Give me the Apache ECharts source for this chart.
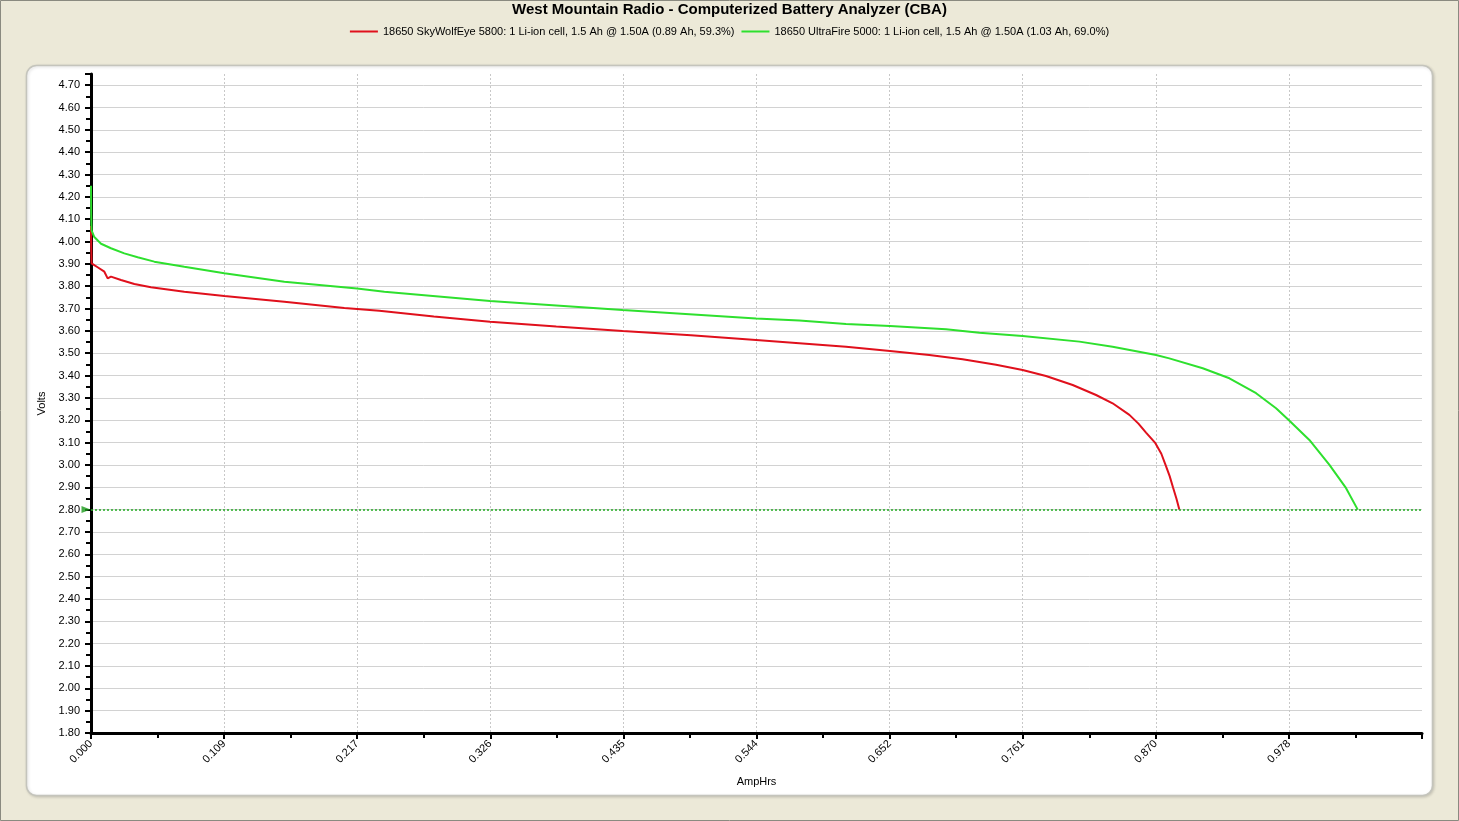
<!DOCTYPE html>
<html>
<head>
<meta charset="utf-8">
<script src="https://cdn.jsdelivr.net/npm/echarts@6/dist/echarts.min.js"></script>
<style>
html,body{margin:0;padding:0;background:#ECE9D8;}
#chart{width:1459px;height:821px;}
</style>
</head>
<body>
<div id="chart"></div>
<script>
// ---- data (AmpHrs, Volts) ----
var redName = '18650 SkyWolfEye 5800: 1 Li-ion cell, 1.5 Ah @ 1.50A (0.89 Ah, 59.3%)';
var greenName = '18650 UltraFire 5000: 1 Li-ion cell, 1.5 Ah @ 1.50A (1.03 Ah, 69.0%)';

var redAh = [0, 0.0002, 0.0005, 0.0030, 0.0054, 0.0109, 0.0136, 0.0163, 0.0245, 0.0354, 0.0490, 0.0762,
  0.1089, 0.1579, 0.2069, 0.2355, 0.2800, 0.3259, 0.3800, 0.4342, 0.4900, 0.5432, 0.5785, 0.6167,
  0.6526, 0.6847, 0.7119, 0.7392, 0.7609, 0.7800, 0.8018, 0.8209, 0.8344, 0.8481, 0.8555, 0.8617,
  0.8690, 0.8742, 0.8780, 0.8810, 0.8837, 0.8865, 0.8889];
var redV = [4.07, 3.98, 3.902, 3.893, 3.885, 3.865, 3.835, 3.843, 3.828, 3.810, 3.795, 3.775,
  3.756, 3.731, 3.703, 3.690, 3.664, 3.641, 3.620, 3.600, 3.580, 3.559, 3.545, 3.529,
  3.510, 3.492, 3.473, 3.448, 3.425, 3.398, 3.358, 3.313, 3.276, 3.224, 3.185, 3.145,
  3.100, 3.050, 2.995, 2.950, 2.900, 2.850, 2.800];

var greenAh = [0, 0.0002, 0.0005, 0.0027, 0.0082, 0.0163, 0.0272, 0.0381, 0.0517, 0.0762, 0.1089,
  0.1579, 0.2173, 0.2396, 0.3259, 0.4342, 0.5432, 0.5785, 0.6167, 0.6526, 0.6984, 0.7256, 0.7609,
  0.8073, 0.8344, 0.8699, 0.8807, 0.9080, 0.9298, 0.9516, 0.9679, 0.9782, 0.9951, 1.0115, 1.0251, 1.0346];
var greenV = [4.25, 4.12, 4.05, 4.02, 3.99, 3.97, 3.947, 3.930, 3.910, 3.887, 3.858,
  3.820, 3.790, 3.775, 3.734, 3.694, 3.656, 3.646, 3.631, 3.622, 3.607, 3.592, 3.577,
  3.552, 3.529, 3.492, 3.477, 3.433, 3.388, 3.321, 3.254, 3.201, 3.112, 3.000, 2.896, 2.800];

var cutoffVolts = 2.80;

// axis ticks
var xMin = 0, xMax = 1.0871, xStep = 0.10871;
var yMin = 1.80, yMax = 4.75, yStep = 0.10;

function pairs(xs, ys){ return xs.map(function(x,i){ return [x, ys[i]]; }); }

var FONT = 'Liberation Sans, Arial, sans-serif';
var chart = echarts.init(document.getElementById('chart'));
chart.setOption({
  backgroundColor: '#ECE9D8',
  animation: false,
  textStyle: { fontFamily: FONT },
  title: {
    text: 'West Mountain Radio - Computerized Battery Analyzer (CBA)',
    left: 'center', top: -3,
    textStyle: { fontFamily: FONT, fontSize: 15, fontWeight: 'bold', color: '#000' }
  },
  legend: {
    top: 21, left: 'center',
    data: [redName, greenName],
    icon: 'rect', itemWidth: 28, itemHeight: 2, itemGap: 7,
    textStyle: { fontFamily: FONT, fontSize: 11, color: '#000' }
  },
  graphic: [
    { type: 'rect', z: -10, silent: true,
      shape: { x: 0.5, y: 0.5, width: 1458, height: 820 },
      style: { fill: 'none', stroke: '#8a8a80', lineWidth: 1 } },
    { type: 'rect', z: -5, silent: true,
      shape: { x: 26.5, y: 65.5, width: 1406, height: 730, r: 10 },
      style: { fill: '#ffffff', stroke: '#c4c4bc', lineWidth: 1.5,
               shadowBlur: 3, shadowColor: 'rgba(0,0,0,0.15)', shadowOffsetX: 1, shadowOffsetY: 1 } }
  ],
  grid: { left: 91, right: 37, top: 74, bottom: 88, containLabel: false },
  xAxis: {
    type: 'value', min: xMin, max: xMax, interval: xStep,
    name: 'AmpHrs', nameLocation: 'middle', nameGap: 43,
    nameTextStyle: { fontFamily: FONT, fontSize: 11, color: '#000' },
    axisLine: { show: true, onZero: false, lineStyle: { color: '#000', width: 3 } },
    axisTick: { show: true, length: 6, lineStyle: { color: '#000', width: 2 } },
    minorTick: { show: true, splitNumber: 2, length: 5, lineStyle: { color: '#000', width: 2 } },
    axisLabel: { rotate: 45, margin: 9, fontSize: 11, color: '#000', fontFamily: FONT,
      showMaxLabel: false,
      formatter: function(v){ return v.toFixed(3); } },
    splitLine: { show: true, showMinLine: false, showMaxLine: false,
      lineStyle: { color: '#c8c8c8', width: 1, type: [2, 2] } }
  },
  yAxis: {
    type: 'value', min: yMin, max: yMax, interval: yStep,
    name: 'Volts', nameLocation: 'middle', nameGap: 39,
    nameTextStyle: { fontFamily: FONT, fontSize: 11, color: '#000' },
    axisLine: { show: true, onZero: false, lineStyle: { color: '#000', width: 3 } },
    axisTick: { show: true, length: 6, lineStyle: { color: '#000', width: 2 } },
    minorTick: { show: true, splitNumber: 2, length: 5, lineStyle: { color: '#000', width: 2 } },
    axisLabel: { margin: 11, fontSize: 11, color: '#000', fontFamily: FONT,
      showMaxLabel: false,
      formatter: function(v){ return v.toFixed(2); } },
    splitLine: { show: true, showMinLine: false, showMaxLine: false,
      lineStyle: { color: '#d2d2d2', width: 1 } }
  },
  series: [
    { name: redName, type: 'line', data: pairs(redAh, redV), showSymbol: false,
      lineStyle: { color: '#e0101c', width: 2 }, itemStyle: { color: '#e0101c' }, z: 3 },
    { name: greenName, type: 'line', data: pairs(greenAh, greenV), showSymbol: false,
      lineStyle: { color: '#2ee02e', width: 2 }, itemStyle: { color: '#2ee02e' }, z: 3 },
    { name: 'cutoff', type: 'scatter', data: [[xMin, cutoffVolts]], clip: false, silent: true,
      symbol: 'triangle', symbolRotate: -90, symbolSize: [7, 9], symbolOffset: [-5, 0],
      itemStyle: { color: '#1a9a1a' }, z: 4,
      markLine: { silent: true, symbol: ['none', 'none'], label: { show: false },
        lineStyle: { color: '#22aa22', width: 1.6, type: [2, 2] },
        data: [{ yAxis: cutoffVolts }] } }
  ]
});
</script>
</body>
</html>
